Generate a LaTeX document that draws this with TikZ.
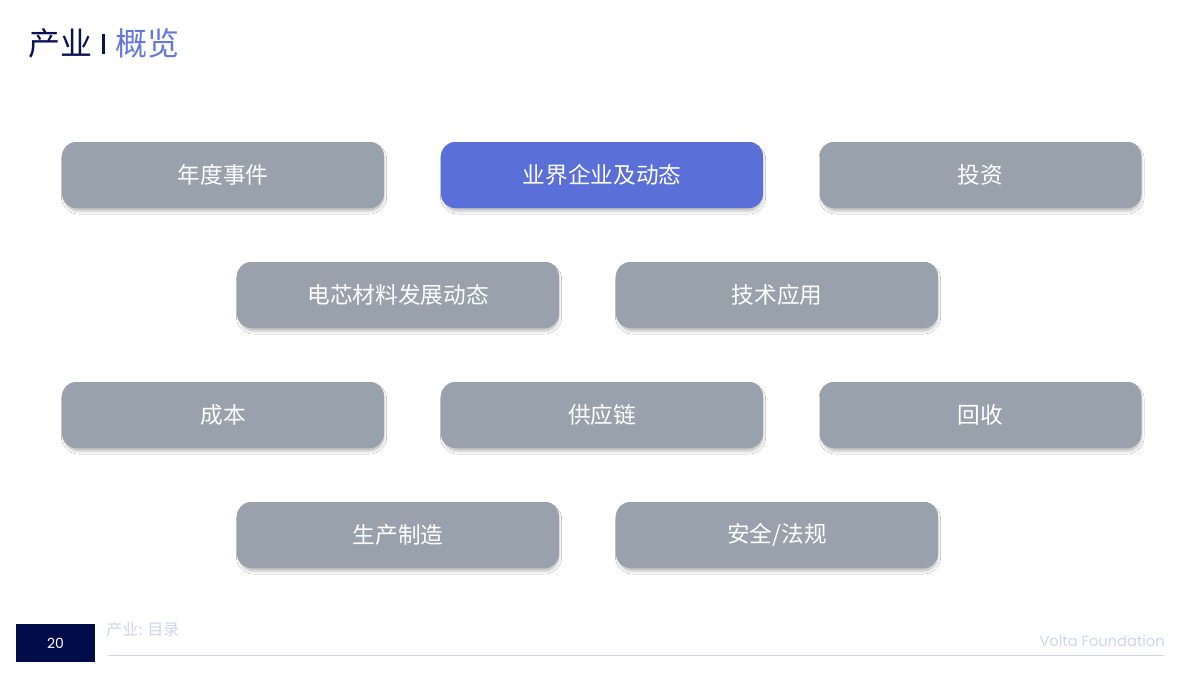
\documentclass[tikz,border=0pt]{standalone}
\usepackage{fontspec}
\setmainfont{Noto Sans CJK SC}
\newfontfamily\cjk{Noto Sans CJK SC}
\newfontfamily\latfont{Poppins}
\usetikzlibrary{shadows.blur}
\definecolor{boxgray}{HTML}{99A1AC}
\definecolor{boxblue}{HTML}{5A6FD8}
\definecolor{navy}{HTML}{0B1250}
\definecolor{titleblue}{HTML}{6478DC}
\definecolor{footnavy}{HTML}{000D4A}
\definecolor{footlight}{HTML}{D0D5E8}
\begin{document}
\begin{tikzpicture}[x=0.75pt,y=-0.75pt,
  tile/.style={draw=none,fill=boxgray,rounded corners=10.5pt,minimum width=241.5pt,minimum height=49.5pt,
    inner sep=0pt,text=white,font=\cjk\fontsize{17}{20}\selectfont,
    blur shadow={shadow xshift=0.8pt,shadow yshift=-2.4pt,shadow blur steps=10,shadow blur radius=2.4pt,shadow opacity=30,shadow scale=0.99}},
  hot/.style={tile,fill=boxblue},
  ttl/.style={inner sep=0pt,font=\cjk\fontsize{24}{28}\selectfont}]
\useasboundingbox (0,0) rectangle (1200,675);
\fill[white] (0,0) rectangle (1200,675);
% title
\node[ttl,anchor=west,text=navy] (t1) at (28,43) {产业};
\fill[navy] (102,34) rectangle (105,54);
\node[ttl,anchor=west,text=titleblue] (t2) at (115,43) {概览};
% tiles
\node[tile] (n1) at (223,175) {年度事件};
\node[hot]  (n2) at (602,175) {业界企业及动态};
\node[tile] (n3) at (980.5,175) {投资};
\node[tile] (n4) at (398,295) {电芯材料发展动态};
\node[tile] (n5) at (777,295) {技术应用};
\node[tile] (n6) at (223,415) {成本};
\node[tile] (n7) at (602,415) {供应链};
\node[tile] (n8) at (980.5,415) {回收};
\node[tile] (n9) at (398,535) {生产制造};
\node[tile] (n10) at (777,535) {安全/法规};
% footer
\fill[footnavy] (16,624) rectangle (95,662);
\node[text=white,font=\latfont\fontsize{10.5}{12}\selectfont,inner sep=0pt] (pg) at (55.5,643.5) {20};
\node[anchor=west,inner sep=0pt,text=footlight,font=\cjk\fontsize{12}{14}\selectfont] (sec) at (106,629) {产业: 目录};
\node[anchor=east,inner sep=0pt,text=footlight,font=\latfont\fontsize{11}{13}\selectfont] (vf) at (1165,641) {Volta Foundation};
\coordinate (l1) at (108,655.5);
\coordinate (l2) at (1164,655.5);
\draw[footlight,line width=1.4pt] (l1) -- (l2);
\end{tikzpicture}
\end{document}
